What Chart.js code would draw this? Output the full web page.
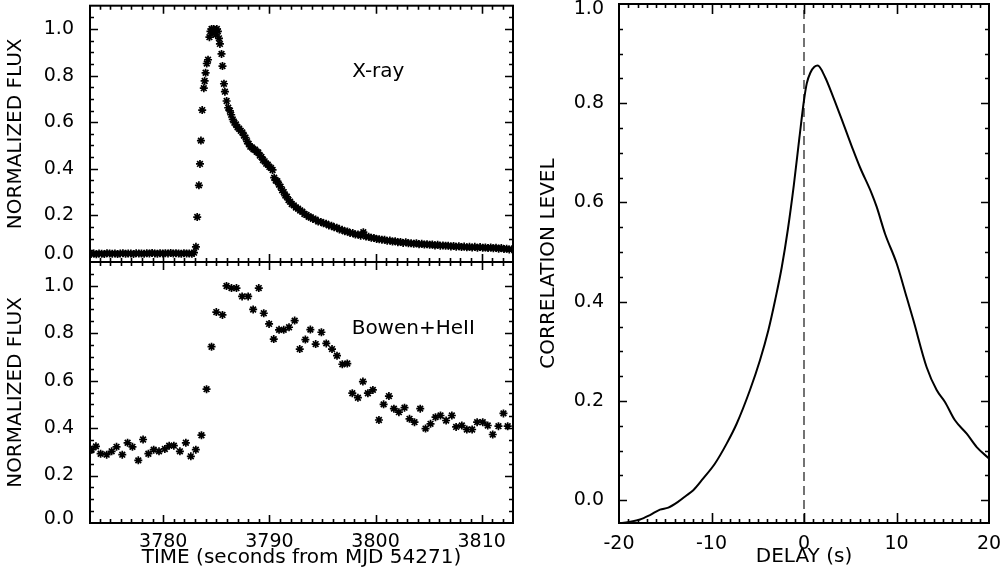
<!DOCTYPE html>
<html>
<head>
<meta charset="utf-8">
<script src="https://cdn.jsdelivr.net/npm/chart.js@4.4.1/dist/chart.umd.min.js"></script>
<style>
html,body{margin:0;padding:0;background:#fff;}
#wrap{position:relative;width:1004px;height:583px;overflow:hidden;background:#fff;}
#wrap canvas{position:absolute;left:0;top:0;}
</style>
</head>
<body>
<div id="wrap">
<canvas id="cTop" width="1004" height="583"></canvas>
<canvas id="cBot" width="1004" height="583"></canvas>
<canvas id="cCorr" width="1004" height="583"></canvas>
</div>
<script>
// ---------- DATA ----------
const timeTicks = [3780, 3790, 3800, 3810];
const fluxTicks = [0.0, 0.2, 0.4, 0.6, 0.8, 1.0];
const delayTicks = [-20, -10, 0, 10, 20];
const corrTicks = [0.0, 0.2, 0.4, 0.6, 0.8, 1.0];

const xrayTime = [
3773.2,3773.45,3773.7,3773.95,3774.2,3774.45,3774.7,3774.95,3775.2,3775.45,
3775.7,3775.95,3776.2,3776.45,3776.7,3776.95,3777.2,3777.45,3777.7,3777.95,
3778.2,3778.45,3778.7,3778.95,3779.2,3779.45,3779.7,3779.95,3780.2,3780.45,
3780.7,3780.95,3781.2,3781.45,3781.7,3781.95,3782.2,3782.45,3782.7,3782.9,
3783.08,3783.2,3783.36,3783.46,3783.55,3783.67,3783.82,3783.9,3783.99,3784.1,3784.22,
3784.35,3784.45,3784.55,3784.65,3784.75,3784.85,3784.95,3785.05,3785.15,3785.25,
3785.34,3785.49,3785.58,3785.72,3785.81,3785.97,3786.12,3786.28,
3786.4,3786.55,3786.7,3786.85,3787.0,3787.15,3787.3,3787.45,3787.6,3787.75,
3787.9,3788.05,3788.2,3788.35,3788.5,3788.65,3788.8,3788.95,3789.1,3789.25,
3789.4,3789.55,3789.7,3789.85,3790.0,3790.15,3790.3,3790.45,3790.6,3790.75,
3790.9,3791.05,3791.2,3791.35,3791.5,3791.65,3791.8,3791.95,3792.1,3792.3,
3792.5,3792.7,3792.9,3793.1,3793.3,3793.5,3793.7,3793.9,3794.1,3794.35,
3794.6,3794.85,3795.1,3795.35,3795.6,3795.85,3796.1,3796.35,3796.6,3796.85,
3797.1,3797.35,3797.6,3797.85,3798.1,3798.35,3798.6,3798.85,3799.1,3799.35,
3799.6,3799.85,3800.1,3800.35,3800.6,3800.85,3801.1,3801.35,3801.6,3801.85,
3802.1,3802.35,3802.6,3802.85,3803.1,3803.35,3803.6,3803.85,3804.1,3804.35,
3804.6,3804.85,3805.1,3805.35,3805.6,3805.85,3806.1,3806.35,3806.6,3806.85,
3807.1,3807.35,3807.6,3807.85,3808.1,3808.35,3808.6,3808.85,3809.1,3809.35,
3809.6,3809.85,3810.1,3810.35,3810.6,3810.85,3811.1,3811.35,3811.6,3811.85,
3812.1,3812.35,3812.6,3812.85
];
const xrayFlux = [
0.034,0.036,0.033,0.037,0.035,0.034,0.038,0.036,0.035,0.037,
0.034,0.036,0.038,0.035,0.037,0.036,0.034,0.038,0.036,0.037,
0.035,0.038,0.036,0.039,0.037,0.035,0.038,0.036,0.038,0.037,
0.039,0.036,0.038,0.037,0.035,0.038,0.036,0.037,0.035,0.040,
0.065,0.193,0.329,0.421,0.521,0.652,0.746,0.777,0.812,0.852,0.868,
0.965,0.990,1.000,0.985,1.000,0.995,0.975,1.000,0.990,0.960,
0.936,0.893,0.841,0.765,0.731,0.691,0.662,0.649,
0.632,0.612,0.598,0.590,0.578,0.572,0.563,0.556,0.543,0.534,
0.518,0.507,0.495,0.492,0.484,0.482,0.473,0.470,0.457,0.451,
0.438,0.432,0.422,0.418,0.408,0.404,0.395,0.362,0.350,0.347,
0.332,0.323,0.308,0.300,0.285,0.280,0.266,0.259,0.249,0.243,
0.234,0.229,0.221,0.216,0.206,0.202,0.194,0.192,0.185,0.182,
0.174,0.172,0.166,0.164,0.157,0.156,0.149,0.147,0.140,0.138,
0.132,0.131,0.125,0.124,0.118,0.118,0.113,0.128,0.109,0.108,
0.104,0.103,0.099,0.098,0.096,0.095,0.091,0.092,0.088,0.089,
0.085,0.086,0.082,0.085,0.080,0.081,0.078,0.081,0.076,0.078,
0.075,0.076,0.074,0.075,0.071,0.074,0.070,0.071,0.070,0.070,
0.067,0.069,0.065,0.068,0.064,0.066,0.063,0.065,0.062,0.065,
0.061,0.064,0.061,0.062,0.060,0.062,0.059,0.061,0.057,0.060,
0.056,0.057,0.054,0.055
];

const bowenTime = [
3773.26,3773.66,3774.10,3774.67,3775.14,3775.60,3776.14,3776.64,3777.10,3777.65,
3778.10,3778.60,3779.10,3779.60,3780.15,3780.56,3781.00,3781.57,3782.13,3782.60,
3783.07,3783.60,3784.08,3784.55,3785.00,3785.58,3785.96,3786.43,3786.90,3787.43,
3788.00,3788.47,3789.00,3789.47,3789.97,3790.41,3790.91,3791.35,3791.85,3792.38,
3792.86,3793.39,3793.86,3794.36,3794.90,3795.36,3795.90,3796.37,3796.87,3797.34,
3797.81,3798.34,3798.81,3799.28,3799.75,3800.32,3800.76,3801.26,3801.73,3802.20,
3802.73,3803.20,3803.67,3804.21,3804.71,3805.18,3805.65,3806.12,3806.65,3807.19,
3807.59,3808.13,3808.60,3809.10,3809.57,3810.10,3810.57,3811.04,3811.58,3812.05,
3812.45
];
const bowenFlux = [
0.309,0.323,0.292,0.288,0.302,0.321,0.288,0.338,0.321,0.264,
0.352,0.292,0.309,0.302,0.312,0.326,0.326,0.302,0.338,0.281,
0.309,0.370,0.564,0.743,0.889,0.877,0.999,0.990,0.990,0.955,
0.955,0.900,0.990,0.884,0.839,0.775,0.814,0.814,0.825,0.853,
0.733,0.773,0.815,0.754,0.804,0.757,0.733,0.705,0.669,0.672,
0.547,0.528,0.596,0.547,0.561,0.434,0.500,0.535,0.482,0.467,
0.486,0.439,0.425,0.482,0.398,0.418,0.446,0.453,0.432,0.453,
0.405,0.411,0.394,0.394,0.425,0.425,0.411,0.373,0.408,0.462,
0.408
];

const delay = [
-20,-17.73,-16.65,-15.57,-14.67,-13.59,-12.68,-11.97,-10.89,-9.62,
-8.36,-7.28,-5.84,-4.76,-3.86,-3.1,-2.4,-1.75,-1.1,-0.5,
0.0,0.3,0.7,1.1,1.48,2.27,3.17,4.25,5.33,6.05,7.32,7.86,
8.76,10.02,11.1,11.82,13.26,14.34,15.24,16.32,17.59,18.67,
20
];
const correlation = [
-0.047,-0.039,-0.030,-0.019,-0.015,-0.003,0.010,0.020,0.044,0.074,
0.114,0.154,0.222,0.282,0.342,0.405,0.470,0.545,0.635,0.730,
0.806,0.840,0.862,0.873,0.876,0.853,0.812,0.759,0.705,0.671,0.618,0.591,
0.537,0.477,0.409,0.363,0.268,0.222,0.198,0.161,0.134,0.107,
0.084
];
const zeroDelayX = [0, 0];
const zeroDelayY = [-0.046, 1.0];

// ---------- HELPERS ----------
const FONT = 'DejaVu Sans';
const pts = (xs, ys) => xs.map((v, i) => ({x: v, y: ys[i]}));
const range = (a, b, s) => { const r = []; for (let v = a; v <= b + 1e-9; v += s) r.push(+v.toFixed(4)); return r; };

const frameTicks = {
  id: 'frameTicks',
  afterDatasetsDraw(chart, args, o) {
    const {ctx, chartArea: a, scales} = chart;
    const xs = scales.x, ys = scales.y;
    ctx.save();
    ctx.strokeStyle = '#000';
    ctx.lineWidth = 1.6;
    ctx.beginPath();
    const vx = (vals, len) => vals.forEach(v => {
      const p = Math.round(xs.getPixelForValue(v)) + 0.5;
      if (p < a.left + 1 || p > a.right - 1) return;
      ctx.moveTo(p, a.bottom); ctx.lineTo(p, a.bottom - len);
      ctx.moveTo(p, a.top); ctx.lineTo(p, a.top + len);
    });
    const vy = (vals, len) => vals.forEach(v => {
      const p = Math.round(ys.getPixelForValue(v)) + 0.5;
      if (p < a.top + 1 || p > a.bottom - 1) return;
      ctx.moveTo(a.left, p); ctx.lineTo(a.left + len, p);
      ctx.moveTo(a.right, p); ctx.lineTo(a.right - len, p);
    });
    vx(o.xMajor, o.xMajLen); vx(o.xMinor, o.xMinLen);
    vy(o.yMajor, o.yMajLen); vy(o.yMinor, o.yMinLen);
    ctx.stroke();
    ctx.lineWidth = 2;
    ctx.strokeRect(a.left, a.top, a.right - a.left, a.bottom - a.top);
    if (o.label) {
      ctx.fillStyle = '#000';
      ctx.font = '20px "' + FONT + '"';
      ctx.textAlign = 'left';
      ctx.textBaseline = 'middle';
      ctx.fillText(o.label.text, xs.getPixelForValue(o.label.x), ys.getPixelForValue(o.label.y));
    }
    ctx.restore();
  }
};

function fixW(w) { return s => { s.width = w; s.paddingTop = 0; s.paddingBottom = 0; s.paddingLeft = 0; s.paddingRight = 0; }; }
function fixH(h) { return s => { s.height = h; s.paddingTop = 0; s.paddingBottom = 0; s.paddingLeft = 0; s.paddingRight = 0; }; }
function setTicks(list) { return s => { s.ticks = list.map(v => ({value: v})); }; }

// edge labels are nudged inside the frame (as in the original) with a blank second line
function edgeLabel(edgeValue, blankAfter) {
  return v => {
    const t = Number(v).toFixed(1);
    if (Math.abs(v - edgeValue) < 1e-9) return blankAfter ? [t, ''] : ['', t];
    return t;
  };
}
function edgeFont(edgeValue, lh) {
  return c => ({family: FONT, size: 19,
    lineHeight: (c.tick && Math.abs(c.tick.value - edgeValue) < 1e-9) ? lh : 1.2});
}

const starDs = (data) => ({
  data, pointStyle: 'star', pointRadius: 4, pointHoverRadius: 4,
  borderColor: '#000', backgroundColor: '#000', pointBorderWidth: 1.7, showLine: false
});

function fluxChart(id, data, top, bottomPad, showX, label, zeroLH) {
  return new Chart(document.getElementById(id), {
    type: 'scatter',
    data: {datasets: [starDs(data)]},
    options: {
      responsive: false, animation: false, events: [],
      layout: {padding: {left: 0, right: 491, top: top, bottom: bottomPad}},
      plugins: {legend: {display: false}, tooltip: {enabled: false},
        frameTicks: {xMajor: timeTicks, xMinor: range(3774, 3812, 1), xMajLen: 8, xMinLen: 4,
                     yMajor: fluxTicks, yMinor: range(0.05, 1.05, 0.05), yMajLen: 8, yMinLen: 4, label}},
      scales: {
        x: {type: 'linear', min: 3773.1, max: 3812.95,
            afterBuildTicks: setTicks(timeTicks), afterFit: fixH(showX ? 60 : 0),
            grid: {display: false}, border: {display: false},
            ticks: {display: showX, padding: 0, color: '#000', font: {family: FONT, size: 19}, callback: v => String(v)},
            title: {display: showX, text: 'TIME (seconds from MJD 54271)', color: '#000',
                    font: {family: FONT, size: 20}, padding: {top: 0, bottom: 13}}},
        y: {type: 'linear', min: 0, max: 1.1,
            afterBuildTicks: setTicks(fluxTicks), afterFit: fixW(90),
            grid: {display: false}, border: {display: false},
            ticks: {padding: 8, color: '#000', font: edgeFont(0, zeroLH), callback: edgeLabel(0, true)},
            title: {display: true, text: 'NORMALIZED FLUX', color: '#000',
                    font: {family: FONT, size: 20}, padding: {top: 4, bottom: 0}}}
      }
    },
    plugins: [frameTicks]
  });
}

fluxChart('cTop', pts(xrayTime, xrayFlux), 4, 321, false, {text: 'X-ray', x: 3797.8, y: 0.815}, 0.8);
fluxChart('cBot', pts(bowenTime, bowenFlux), 262, 0, true, {text: 'Bowen+HeII', x: 3797.75, y: 0.818}, 0.4);

new Chart(document.getElementById('cCorr'), {
  type: 'scatter',
  data: {datasets: [
    {data: pts(delay, correlation), showLine: true, borderColor: '#000', borderWidth: 2,
     pointRadius: 0, cubicInterpolationMode: 'monotone', fill: false},
    {data: pts(zeroDelayX, zeroDelayY), showLine: true, borderColor: '#000', borderWidth: 1.1,
     borderDash: [9, 5], pointRadius: 0, fill: false}
  ]},
  options: {
    responsive: false, animation: false, events: [],
    layout: {padding: {left: 530, right: 15, top: 4, bottom: 0}},
    plugins: {legend: {display: false}, tooltip: {enabled: false},
      frameTicks: {xMajor: delayTicks, xMinor: range(-19, 19, 1), xMajLen: 10, xMinLen: 4,
                   yMajor: corrTicks, yMinor: range(0.05, 0.95, 0.05), yMajLen: 8, yMinLen: 4}},
    scales: {
      x: {type: 'linear', min: -20, max: 20,
          afterBuildTicks: setTicks(delayTicks), afterFit: fixH(60),
          grid: {display: false}, border: {display: false},
          ticks: {padding: 2, color: '#000', font: {family: FONT, size: 19}, callback: v => String(v)},
          title: {display: true, text: 'DELAY (s)', color: '#000',
                  font: {family: FONT, size: 20}, padding: {top: 0, bottom: 14}}},
      y: {type: 'linear', min: -0.046, max: 1.0,
          afterBuildTicks: setTicks(corrTicks), afterFit: fixW(89),
          grid: {display: false}, border: {display: false},
          ticks: {padding: 7, color: '#000', font: edgeFont(1, 0.55), callback: edgeLabel(1, false)},
          title: {display: true, text: 'CORRELATION LEVEL', color: '#000',
                  font: {family: FONT, size: 20}, padding: {top: 7, bottom: 0}}}
    }
  },
  plugins: [frameTicks]
});
</script>
</body>
</html>
